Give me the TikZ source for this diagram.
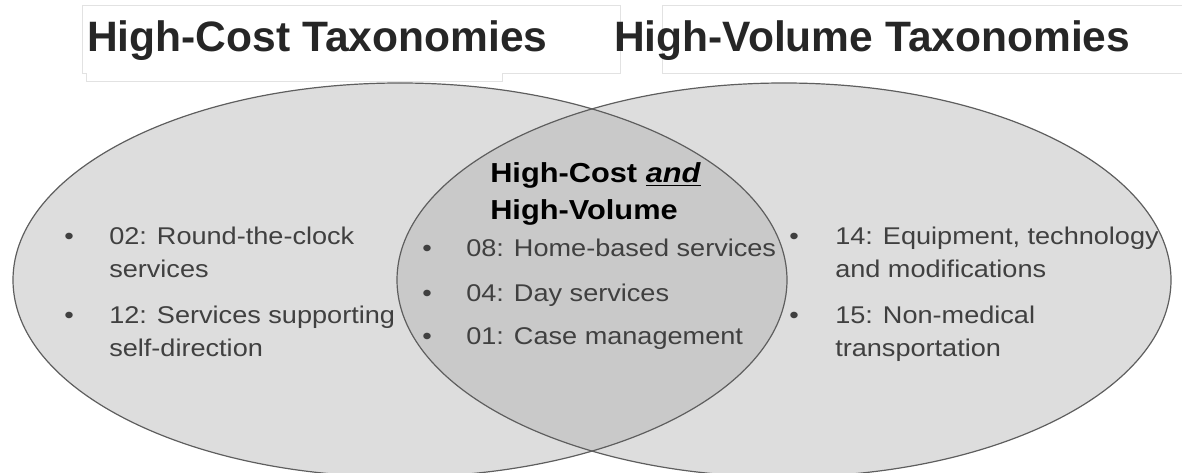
\documentclass[tikz,border=0pt]{standalone}
\usepackage{fontspec}
\setmainfont{Liberation Sans}
\newfontfamily\vennfont[FakeStretch=1.12]{Liberation Sans}
\usetikzlibrary{calc}
\tikzset{>=latex}
\definecolor{vennfill}{HTML}{DDDDDD}
\definecolor{venndark}{HTML}{C9C9C9}
\definecolor{vennline}{HTML}{5E5E5E}
\definecolor{boxline}{HTML}{E2E2E2}
\definecolor{titletext}{HTML}{262626}
\definecolor{itemtext}{HTML}{404040}
\newcommand\thickunder[1]{\setbox0\hbox{#1}\rlap{\rule[-2.6pt]{\wd0}{1.3pt}}\box0}
\tikzset{
  heading/.style={anchor=base west,inner sep=0pt,text=titletext,
    font=\bfseries\fontsize{31.9}{36}\selectfont},
  midhead/.style={anchor=base west,inner sep=0pt,align=left,text=black,
    font=\vennfont\bfseries\fontsize{20.6}{27.75}\selectfont},
  listentry/.style={anchor=base west,inner sep=0pt,align=left,text=itemtext,
    font=\vennfont\fontsize{18.15}{24.75}\selectfont},
  itembullet/.style={anchor=base,inner sep=0pt,text=itemtext,
    font=\vennfont\fontsize{18.15}{24.75}\selectfont},
}

\begin{document}
\begin{tikzpicture}[x=0.75pt,y=-0.75pt]
        \useasboundingbox (0,0) rectangle (1182,473);
        % title boxes
        \draw[boxline] (82,5) -- (620,5) -- (620,73) -- (502,73) -- (502,81)
        -- (86,81) -- (86,73) -- (82,73) -- cycle;
        \draw[boxline] (1190,5) -- (662,5) -- (662,73) -- (1190,73);
        \node[heading] (costhead) at (87,52) {High-Cost Taxonomies};
        \node[heading] (volhead) at (614,52) {High-Volume Taxonomies};
        % the two sets
        \fill[vennfill] (400,280) ellipse [x radius=387, y radius=197];
        \fill[vennfill] (784,280) ellipse [x radius=387, y radius=197];
        \begin{scope}
          \clip (400,280) ellipse [x radius=387, y radius=197];
          \fill[venndark] (784,280) ellipse [x radius=387, y radius=197];
        \end{scope}
        \draw[vennline,line width=0.9pt] (400,280) ellipse [x radius=387, y radius=197];
        \draw[vennline,line width=0.9pt] (784,280) ellipse [x radius=387, y radius=197];
        % high cost only (two-line nodes sit on their last baseline)
        \node[itembullet] (b02) at (69,245) {•};
        \node[listentry] (t02) at (109,278) {02: Round-the-clock\\services};
        \node[itembullet] (b12) at (69,324) {•};
        \node[listentry] (t12) at (109,357) {12: Services supporting\\self-direction};
        % both
        \node[midhead] (midhead) at (490,220) {High-Cost \thickunder{\textit{and}}\\High-Volume};
        \node[itembullet] (b08) at (427,257) {•};
        \node[listentry] (t08) at (466,257) {08: Home-based services};
        \node[itembullet] (b04) at (427,302) {•};
        \node[listentry] (t04) at (466,302) {04: Day services};
        \node[itembullet] (b01) at (427,345) {•};
        \node[listentry] (t01) at (466,345) {01: Case management};
        % high volume only
        \node[itembullet] (b14) at (794,245) {•};
        \node[listentry] (t14) at (835,278) {14: Equipment, technology\\and modifications};
        \node[itembullet] (b15) at (794,324) {•};
        \node[listentry] (t15) at (835,357) {15: Non-medical\\transportation};
      \end{tikzpicture}
\end{document}
